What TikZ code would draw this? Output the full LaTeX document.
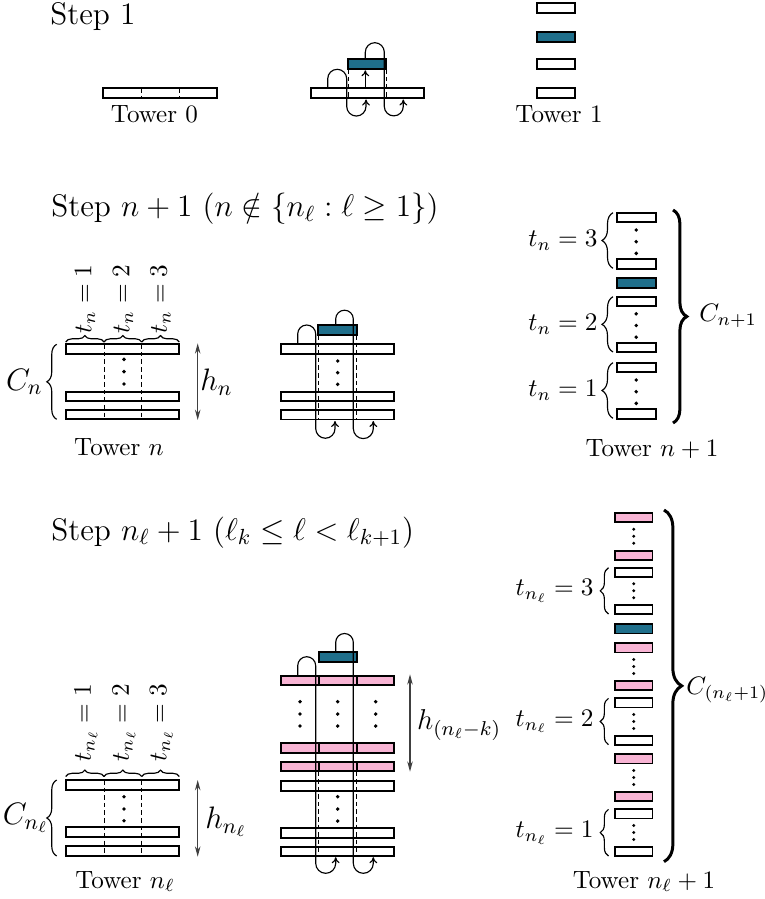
\RequirePackage{fix-cm}
\documentclass[tikz,border=0pt]{standalone}
\usepackage{amsmath,amssymb}
\usetikzlibrary{decorations.pathreplacing,arrows.meta}
\definecolor{spacerblue}{RGB}{31,111,139}
\definecolor{addpink}{RGB}{248,180,212}
\tikzset{
  level/.style={draw,line width=0.8pt,fill=white},
  spacer/.style={draw,line width=0.8pt,fill=spacerblue},
  added/.style={draw,line width=0.8pt,fill=addpink},
  cut/.style={line width=0.4pt,dash pattern=on 2pt off 1.3pt},
  jump/.style={line width=0.5pt,-{To[length=2.6pt,width=3.4pt]}},
  height/.style={line width=0.5pt,black!75,{Stealth[length=4.5pt,width=2.4pt]}-{Stealth[length=4.5pt,width=2.4pt]}},
  br/.style={decorate,decoration={brace,amplitude=#1},line width=0.5pt},
  bigbr/.style={decorate,decoration={brace,amplitude=#1},line width=1.3pt},
  dot/.style={circle,fill,inner sep=0pt,minimum size=1.7pt},
  sdot/.style={circle,fill,inner sep=0pt,minimum size=1.4pt},
  title/.style={anchor=base west,inner sep=0pt,font=\fontsize{13.6}{16}\selectfont},
  tower/.style={anchor=base,inner sep=0pt,font=\fontsize{10.9}{13}\selectfont},
  lab/.style={inner sep=0pt,font=\fontsize{11}{13}\selectfont},
  big/.style={inner sep=0pt,font=\fontsize{13.5}{16}\selectfont}
}
\begin{document}
\begin{tikzpicture}[x=0.435pt,y=0.435pt]
\useasboundingbox (0,0) rectangle (764,-899);
%
% Step 1
\node[title] (s1) at (50,-25) {Step 1};
\draw[level] (103.3,-88.3) rectangle (216.7,-98.3);
\draw[cut] (141.7,-88.3) -- (141.7,-98.3) (179.3,-88.3) -- (179.3,-98.3);
\node[tower] (t0) at (154.5,-123) {Tower 0};
%
\draw[level] (310.7,-88.3) rectangle (424,-98.3);
\draw[spacer] (348.3,-59.3) rectangle (386,-69.3);
\draw[cut] (348.3,-69.3) -- (348.3,-98.3) (386,-69.3) -- (386,-98.3);
\draw[jump] (327.7,-87) -- (327.7,-78.8) arc[start angle=180,end angle=0,radius=9.5]
  -- (346.7,-106.4) arc[start angle=180,end angle=360,radius=9.65] -- (366,-99.5);
\draw[jump] (365.3,-88.3) -- (365.3,-70.3);
\draw[jump] (365.3,-59.3) -- (365.3,-52.2) arc[start angle=180,end angle=0,radius=9.5]
  -- (384.3,-106.4) arc[start angle=180,end angle=360,radius=9.5] -- (403.3,-99.5);
%
\foreach \y/\s in {2.7/level,31.7/spacer,59.3/level,88.3/level}
  \draw[\s] (536.7,-\y) rectangle (575,{-\y-10});
\node[tower] (t1) at (559,-123) {Tower 1};
%
% Step n+1
\node[title] (sn) at (51,-216.7) {Step $n+1$ $(n\notin\{n_\ell:\ell\geq 1\})$};
\foreach \y in {344.3,391.7,410}
  \draw[level] (65.7,-\y) rectangle (179.3,{-\y-9.3});
\draw[cut] (104,-344.3) -- (104,-419.3) (141.7,-344.3) -- (141.7,-419.3);
\foreach \y in {359.3,371.7,384} \node[dot] at (124,-\y) {};
\foreach \a/\b/\c/\k in {65.7/104/85/1,104/141.7/123/2,141.7/179.3/160.5/3}{
  \draw[br=2.8pt] (\a,-342) -- (\b,-342);
  \node[lab,rotate=90,anchor=west] (tn\k) at (\c,-334) {$t_n=\k$};
}
\draw[br=4.3pt] (56.7,-419.3) -- (56.7,-344.3);
\node[big,anchor=east] (cn) at (43,-382) {$C_n$};
\draw[height] (197.7,-343.3) -- (197.7,-420);
\node[big,anchor=west] (hn) at (200,-382) {$h_n$};
\node[tower] (tn) at (119,-455) {Tower $n$};
%
\foreach \y in {344.3,391.7,410}
  \draw[level] (280.7,-\y) rectangle (394,{-\y-9.5});
\draw[spacer] (318.3,-325) rectangle (356.7,-335);
\draw[cut] (318.3,-335) -- (318.3,-419.5) (356.3,-335) -- (356.3,-419.5);
\foreach \y in {361,372.7,384.3} \node[dot] at (337.7,-\y) {};
\draw[jump] (297.7,-344.3) -- (297.7,-334) arc[start angle=180,end angle=0,radius=9]
  -- (315.7,-428.6) arc[start angle=180,end angle=360,radius=9.65] -- (335,-421);
\draw[jump] (335.7,-325) -- (335.7,-319) arc[start angle=180,end angle=0,radius=8.8]
  -- (353.3,-428.6) arc[start angle=180,end angle=360,radius=10] -- (373.3,-421);
%
\foreach \y/\s in {212.7/level,259.3/level,278.3/spacer,296.7/level,343/level,362.7/level,409.3/level}
  \draw[\s] (616.7,-\y) rectangle (655.7,{-\y-9.3});
\foreach \m in {240.5,324.3,390.5}
  \foreach \d in {-10.5,1.2,12.9} \node[dot] at (636.2,{-\m-\d}) {};
\foreach \a/\b/\k in {212.7/268.3/3,296.7/352/2,362.7/418.3/1}{
  \draw[br=4.8pt] (613,-\b) -- (613,-\a);
  \node[lab,anchor=east] (rn\k) at (598,{-(\a+\b)/2}) {$t_n=\k$};
}
\draw[bigbr=6pt] (673,-210) -- (673,-423);
\node[lab,anchor=west] (cn1) at (699,-316) {$C_{n+1}$};
\node[tower] (tn1) at (652,-456) {Tower $n+1$};
%
% Step n_l+1
\node[title] (sl) at (51,-540) {Step $n_\ell+1$ $(\ell_k\leq\ell<\ell_{k+1})$};
\foreach \y in {780,827.3,846}
  \draw[level] (65.7,-\y) rectangle (179.3,{-\y-9.6});
\draw[cut] (104,-780) -- (104,-855.6) (141.7,-780) -- (141.7,-855.6);
\foreach \y in {796.7,809,820.7} \node[dot] at (124,-\y) {};
\foreach \a/\b/\c/\k in {65.7/104/86/1,104/141.7/124/2,141.7/179.3/161.5/3}{
  \draw[br=2.8pt] (\a,-776.5) -- (\b,-776.5);
  \node[lab,rotate=90,anchor=west] (tl\k) at (\c,-762) {$t_{n_\ell}=\k$};
}
\draw[br=4.3pt] (56.7,-856) -- (56.7,-780);
\node[big,anchor=east] (cl) at (49,-818) {$C_{n_\ell}$};
\draw[height] (197.7,-780) -- (197.7,-856.7);
\node[big,anchor=west] (hl) at (205,-821.7) {$h_{n_\ell}$};
\node[tower] (tl) at (125,-888) {Tower $n_\ell$};
%
\foreach \y in {675.7,743.3,761.7}
  \foreach \a/\b in {280.7/319,319/356.7,356.7/394}
    \draw[added] (\a,-\y) rectangle (\b,{-\y-9.7});
\foreach \y in {781,828.3,846.7}
  \draw[level] (280.7,-\y) rectangle (394,{-\y-9.7});
\draw[spacer] (319,-652.3) rectangle (356.7,-662.3);
\draw[cut] (318.7,-771.4) -- (318.7,-856.4) (356.4,-771.4) -- (356.4,-856.4);
\foreach \x in {300,337.7,375.7}
  \foreach \y in {701.7,714,726} \node[dot] at (\x,-\y) {};
\foreach \y in {796.7,809,821} \node[dot] at (337.7,-\y) {};
\draw[jump] (297.7,-675.7) -- (297.7,-665.7) arc[start angle=180,end angle=0,radius=9]
  -- (315.7,-863.3) arc[start angle=180,end angle=360,radius=10] -- (335.7,-857.2);
\draw[jump] (335.7,-652.3) -- (335.7,-642.3) arc[start angle=180,end angle=0,radius=8.8]
  -- (353.3,-863.3) arc[start angle=180,end angle=360,radius=10] -- (373.3,-857.2);
\draw[height] (410,-674.3) -- (410,-771.7);
\node[big,anchor=west,font=\fontsize{12.5}{15}\selectfont] (hk) at (416.7,-725) {$h_{(n_\ell-k)}$};
%
\foreach \y/\s in {512.7/added,550.7/added,567.7/level,605/level,624.3/spacer,643.3/added,681/added,
    698.3/level,735.7/level,754.3/added,791.7/added,809.3/level,846.7/level}
  \draw[\s] (615,-\y) rectangle (652.5,{-\y-9.2});
\foreach \m in {536.2,590.8,666.5,721.5,777.5,832.5}
  \foreach \d in {-7,0,7} \node[sdot] at (633.7,{-\m-\d}) {};
\foreach \a/\b/\k in {567.7/614/3,698.3/744.7/2,809.3/856/1}{
  \draw[br=3.6pt] (608.5,-\b) -- (608.5,-\a);
  \node[lab,anchor=east] (rl\k) at (594,{-(\a+\b)/2}) {$t_{n_\ell}=\k$};
}
\draw[bigbr=7.7pt] (664,-510) -- (664,-861.7);
\node[lab,anchor=west] (cl1) at (686,-690) {$C_{(n_\ell+1)}$};
\node[tower] (tl1) at (644,-888) {Tower $n_\ell+1$};
\end{tikzpicture}
\end{document}
